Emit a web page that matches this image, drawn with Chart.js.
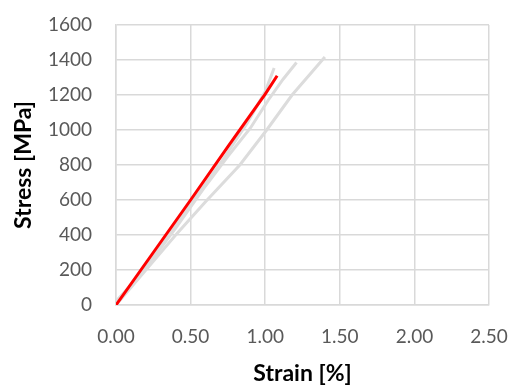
<!DOCTYPE html>
<html>
<head>
<meta charset="utf-8">
<script src="https://cdn.jsdelivr.net/npm/chart.js@4"></script>
<style>
  body { margin: 0; background: #fff; }
  canvas { display: block; }
</style>
</head>
<body>
<canvas id="chart" width="513" height="385"></canvas>
<script>
// strain [%] / stress [MPa]
const redStrain = [0, 0.25, 0.5, 0.75, 1.0, 1.08];
const redStress = [0, 300, 600, 905, 1205, 1310];

const grayAStrain = [0, 0.1, 0.3, 0.5, 0.7, 0.88, 1.0, 1.06];
const grayAStress = [20, 110, 340, 575, 810, 1040, 1220, 1354];

const grayBStrain = [0, 0.2, 0.4, 0.6, 0.75, 0.9, 1.02, 1.12, 1.21];
const grayBStress = [20, 210, 440, 680, 850, 1010, 1170, 1290, 1386];

const grayCStrain = [0, 0.2, 0.4, 0.6, 0.83, 1.01, 1.18, 1.4];
const grayCStress = [0, 200, 400, 590, 800, 1000, 1200, 1417];

const xTicks = [0, 0.5, 1.0, 1.5, 2.0, 2.5];
const yTicks = [0, 200, 400, 600, 800, 1000, 1200, 1400, 1600];

function toPoints(xs, ys) {
    return xs.map((x, i) => ({ x: x, y: ys[i] }));
}

function series(xs, ys, color) {
    return {
        data: toPoints(xs, ys),
        showLine: true,
        borderColor: color,
        borderWidth: 3,
        pointRadius: 0,
        tension: 0
    };
}

const tickColor = '#595959';
const gridColor = '#d9d9d9';
const font = 'Lato, "Open Sans", sans-serif';

// the first dataset is drawn on top, so red goes first
new Chart(document.getElementById('chart'), {
    type: 'scatter',
    data: {
        datasets: [
            series(redStrain, redStress, '#ff0000'),
            series(grayAStrain, grayAStress, '#dcdcdc'),
            series(grayBStrain, grayBStress, '#dcdcdc'),
            series(grayCStrain, grayCStress, '#dcdcdc')
        ]
    },
    options: {
        responsive: false,
        animation: false,
        layout: { padding: { top: 25, right: 24, left: 0, bottom: 0 } },
        plugins: { legend: { display: false }, tooltip: { enabled: false } },
        scales: {
            x: {
                type: 'linear',
                min: 0,
                max: 2.5,
                afterBuildTicks: axis => { axis.ticks = xTicks.map(v => ({ value: v })); },
                afterFit: axis => {
                    axis.height = 80;
                    axis.paddingLeft = 0;
                    axis.paddingRight = 0;
                },
                grid: { color: gridColor, lineWidth: 1.5, drawTicks: false },
                border: { color: gridColor, width: 1.5 },
                ticks: {
                    color: tickColor,
                    padding: 20,
                    font: { family: font, size: 19 },
                    callback: v => Number(v).toFixed(2)
                },
                title: {
                    display: true,
                    text: 'Strain [%]',
                    color: '#000',
                    padding: 0,
                    font: { family: font, size: 23, weight: 'bold', lineHeight: 1 }
                }
            },
            y: {
                min: 0,
                max: 1600,
                afterBuildTicks: axis => { axis.ticks = yTicks.map(v => ({ value: v })); },
                afterFit: axis => {
                    axis.width = 116;
                    axis.paddingTop = 0;
                    axis.paddingBottom = 0;
                },
                grid: { color: gridColor, lineWidth: 1.5, drawTicks: false },
                border: { color: gridColor, width: 1.5 },
                ticks: {
                    color: tickColor,
                    padding: 24,
                    font: { family: font, size: 19 },
                    callback: v => String(v)
                },
                title: {
                    display: true,
                    text: 'Stress [MPa]',
                    color: '#000',
                    padding: { top: 12, bottom: 0 },
                    font: { family: font, size: 23, weight: 'bold', lineHeight: 1 }
                }
            }
        }
    }
});
</script>
</body>
</html>
